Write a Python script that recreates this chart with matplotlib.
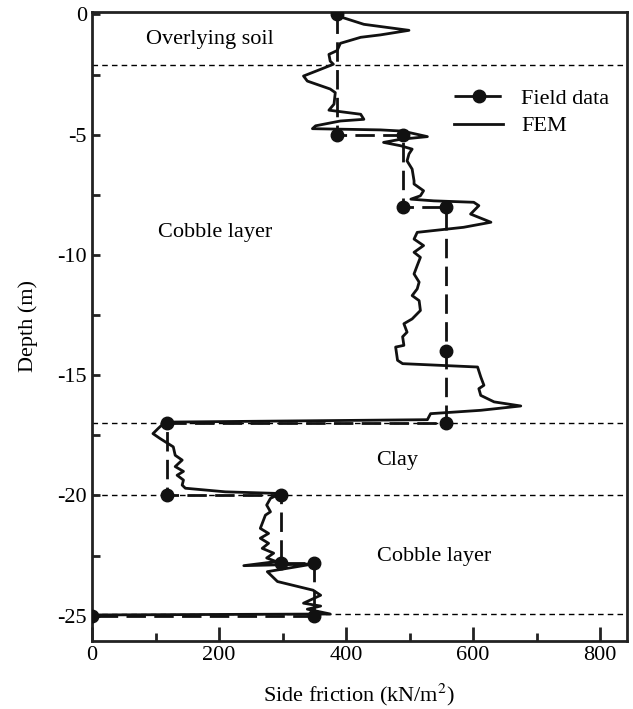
import matplotlib
matplotlib.use('Agg')
import matplotlib.pyplot as plt
from matplotlib.ticker import MultipleLocator

plt.rcParams['font.family'] = ['Liberation Serif', 'DejaVu Serif']
plt.rcParams['mathtext.fontset'] = 'stix'
plt.rcParams['axes.unicode_minus'] = False

# field measurements (side friction kN/m2, depth m)
field_q = [385, 385, 490, 490, 558, 558, 558, 118, 118, 298, 298, 350, 350, 0]
field_z = [0, -5, -5, -8, -8, -14, -17, -17, -20, -20, -22.8, -22.8, -25, -25]

# FEM profile
fem_q = [383, 396, 428, 499, 454, 423, 391, 386, 373, 375, 380, 360, 333, 339,
         375, 383, 381, 373, 423, 428, 391, 352, 347, 454, 489, 528, 486, 459,
         486, 504, 499, 496, 504, 507, 507, 522, 517, 502, 538, 601, 609, 596,
         628, 585, 512, 507, 522, 507, 517, 512, 507, 515, 512, 504, 515, 517,
         504, 491, 496, 489, 491, 478, 481, 489, 607, 612, 617, 609, 612, 633,
         675, 612, 533, 528, 118, 115, 104, 96, 107, 128, 131, 142, 131, 144,
         134, 144, 142, 147, 210, 297, 281, 275, 281, 273, 265, 278, 265, 278,
         268, 286, 275, 290, 239, 348, 276, 292, 348, 360, 333, 360, 339, 375, 0]
fem_z = [0, -0.14, -0.41, -0.66, -0.85, -0.95, -1.2, -1.5, -1.66, -1.94, -2.07,
         -2.28, -2.56, -2.77, -3.1, -3.25, -3.73, -3.98, -4.15, -4.36, -4.43,
         -4.63, -4.75, -4.8, -4.85, -5.08, -5.19, -5.32, -5.46, -5.6, -5.8,
         -6.09, -6.43, -6.92, -7.05, -7.33, -7.54, -7.68, -7.75, -7.81, -7.95,
         -8.3, -8.64, -8.85, -9.06, -9.34, -9.61, -9.89, -10.1, -10.44, -10.79,
         -11.13, -11.41, -11.69, -11.9, -12.31, -12.66, -12.86, -13.21, -13.4,
         -13.76, -13.83, -14.38, -14.52, -14.66, -15.07, -15.42, -15.56, -15.84,
         -16.11, -16.28, -16.46, -16.6, -16.85, -16.95, -16.95, -17.22, -17.43,
         -17.63, -17.98, -18.33, -18.53, -18.8, -19.0, -19.16, -19.36, -19.57,
         -19.7, -19.85, -19.92, -20.12, -20.4, -20.68, -20.82, -21.37, -21.58,
         -21.78, -21.99, -22.2, -22.4, -22.6, -22.75, -22.92, -22.85, -23.17,
         -23.58, -23.94, -24.15, -24.48, -24.6, -24.73, -24.93, -24.97]

# layer boundaries
layer_z = [-2.1, -17.0, -20.0, -24.95]
layer_names = ['Overlying soil', 'Cobble layer', 'Clay', 'Cobble layer']
label_q = [185, 194, 481, 538]
label_z = [-1.05, -9.05, -18.55, -22.55]

fig = plt.figure(figsize=(6.33, 7.09), dpi=100)
ax = fig.add_axes([0.1453, 0.096, 0.845, 0.887])

for z in layer_z:
    ax.axhline(z, color='black', lw=1.0, ls=(0, (4, 3)), zorder=1)

ax.plot(field_q, field_z, color='#111111', lw=2, ls=(0, (7, 3)),
        marker='o', ms=9, label='Field data', zorder=3)
ax.plot(fem_q, fem_z, color='#111111', lw=2, label='FEM', zorder=2)

for name, q, z in zip(layer_names, label_q, label_z):
    ax.text(q, z, name, fontsize=16, ha='center', va='center')

ax.set_xlim(0, 842)
ax.set_ylim(-26.05, 0.1)
ax.xaxis.set_major_locator(MultipleLocator(200))
ax.xaxis.set_minor_locator(MultipleLocator(100))
ax.yaxis.set_major_locator(MultipleLocator(5))
ax.yaxis.set_minor_locator(MultipleLocator(2.5))
ax.tick_params(which='both', direction='in', width=2, labelsize=16, color='#222222')
ax.tick_params(axis='x', which='major', length=10)
ax.tick_params(axis='x', which='minor', length=6)
ax.tick_params(axis='y', which='both', length=6)
for s in ax.spines.values():
    s.set_linewidth(2)
    s.set_color('#222222')

ax.set_xlabel('Side friction (kN/m$^2$)', fontsize=16, labelpad=12)
ax.set_ylabel('Depth (m)', fontsize=16, labelpad=14)

ax.legend(loc='upper left', bbox_to_anchor=(0.64, 0.91), frameon=False,
          fontsize=16, handlelength=2.2, handletextpad=0.8, labelspacing=0.3)

plt.savefig('out.png', dpi=100, facecolor='white')
